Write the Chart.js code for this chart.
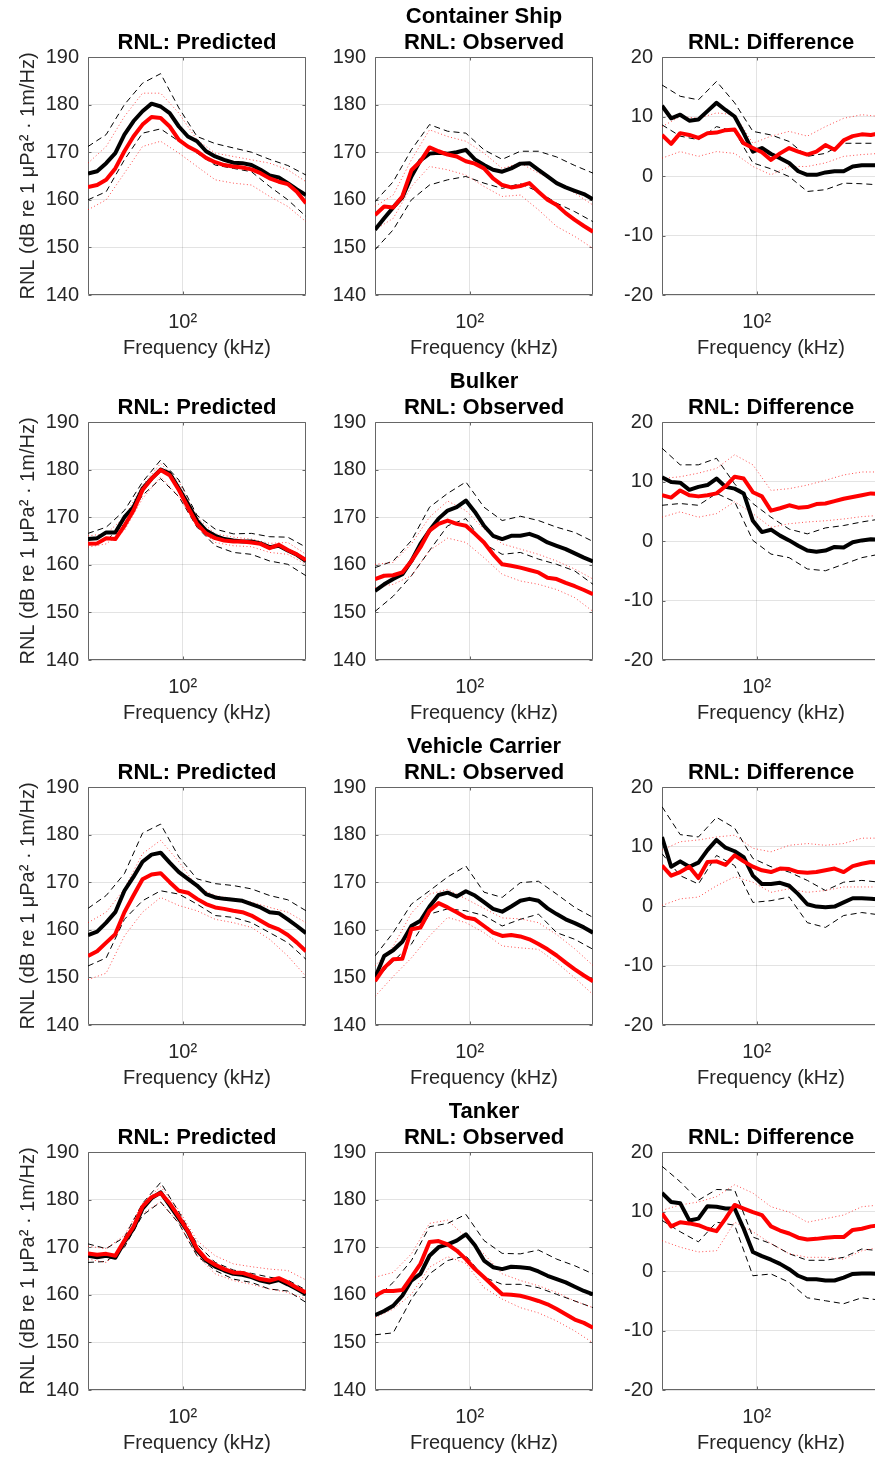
<!DOCTYPE html>
<html>
<head>
<meta charset="utf-8">
<title>RNL by ship type</title>
<script src="https://cdn.jsdelivr.net/npm/chart.js@4.4.1/dist/chart.umd.min.js"></script>
<style>
  html, body { margin: 0; padding: 0; background: #fff; overflow: hidden; }
  body { width: 875px; height: 1458px; position: relative; font-family: "Liberation Sans", Arial, Helvetica, sans-serif; }
  canvas { position: absolute; }
  .ttl { position: absolute; width: 300px; text-align: center; font-weight: bold; font-size: 22px; line-height: 24px; color: #000; white-space: nowrap; }
</style>
</head>
<body>
<script>
// frequency bands; the band limits use every other centre
const freq = [40, 43.7, 47.7, 52.1, 56.9, 62.1, 67.8, 74.0, 80.8, 88.2, 96.4, 105.2, 114.9,
              125.4, 137.0, 149.5, 163.3, 178.3, 194.6, 212.5, 232.1, 253.4, 276.7, 302.1, 330];
const freqBand = [40, 47.7, 56.9, 67.8, 80.8, 96.4, 114.9, 137.0, 163.3, 194.6, 232.1, 276.7, 330];

const shipNames = ['Container Ship', 'Bulker', 'Vehicle Carrier', 'Tanker'];
const panelTitles = ['RNL: Predicted', 'RNL: Observed', 'RNL: Difference'];
const rnlTicks = [140, 150, 160, 170, 180, 190];
const diffTicks = [-20, -10, 0, 10, 20];
const xTicks = [100];
const xTickLabels = ['10\u00b2'];

// --- Container Ship ---
const csPredBlack   = [165.5,166.0,167.7,169.8,173.7,176.5,178.6,180.2,179.6,178.2,175.4,173.3,172.3,170.2,169.1,168.4,167.8,167.7,167.3,166.3,165.1,164.7,163.5,162.2,161.0];
const csPredBlackHi = [171.2,173.7,180.0,184.5,186.5,179.3,173.3,171.8,170.9,170.0,168.5,167.2,165.2];
const csPredBlackLo = [160.0,161.7,168.4,174.0,174.9,172.3,169.8,167.3,166.6,165.9,162.8,160.0,156.5];
const csPredRed     = [162.7,163.1,164.2,166.6,170.2,173.3,175.8,177.4,177.2,175.4,172.6,171.2,170.2,168.8,167.9,167.3,167.0,166.8,166.4,165.6,164.5,163.8,163.3,161.7,159.3];
const csPredRedHi   = [167.7,171.2,177.5,182.4,182.4,178.2,172.6,169.8,169.1,168.4,167.7,166.3,163.8];
const csPredRedLo   = [157.9,160.0,165.6,171.2,172.3,169.8,167.0,164.2,163.5,163.1,160.7,158.6,155.4];

const csObsBlack    = [153.7,156.1,158.4,160.5,164.9,168.3,169.7,169.9,169.7,170.0,170.5,168.5,167.3,166.3,165.9,166.6,167.6,167.7,166.3,164.9,163.5,162.6,161.9,161.2,160.1];
const csObsBlackHi  = [159.6,163.8,170.5,175.8,174.4,174.0,170.5,168.5,170.2,170.2,169.0,167.2,165.6];
const csObsBlackLo  = [149.5,153.7,160.0,163.1,164.2,164.9,163.5,162.4,163.4,161.7,159.3,157.5,155.4];
const csObsRed      = [156.8,158.6,158.4,160.7,166.2,168.1,171.0,170.2,169.5,169.1,168.1,167.6,166.6,164.5,163.1,162.6,162.9,163.5,161.7,160.0,158.9,157.2,155.8,154.5,153.3];
const csObsRedHi    = [158.6,161.0,168.4,174.7,173.3,172.3,169.8,166.6,167.7,165.6,163.8,161.4,158.9];
const csObsRedLo    = [153.7,156.1,162.8,167.0,166.3,165.2,162.8,160.7,161.0,157.9,154.4,152.3,149.8];

const csDiffBlack   = [11.8,9.7,10.3,9.3,9.5,10.9,12.3,11.1,10.0,7.2,4.1,4.7,3.7,3.0,2.2,0.8,0.2,0.2,0.6,0.8,0.8,1.6,1.8,1.8,1.8];
const csDiffBlackHi = [15.3,13.4,12.8,15.9,12.3,7.5,6.9,5.8,3.3,3.8,5.5,5.5,5.5];
const csDiffBlackLo = [8.6,6.7,6.1,8.3,7.5,2.2,1.2,-0.1,-2.6,-2.3,-1.2,-1.3,-1.5];
const csDiffRed     = [6.9,5.4,7.2,6.9,6.4,7.2,7.3,7.7,7.8,5.5,4.7,4.0,2.7,3.8,4.7,4.1,3.6,4.1,5.2,4.4,6.0,6.7,7.0,6.9,7.2];
const csDiffRedHi   = [8.3,10.0,9.7,10.6,10.3,5.5,6.7,7.5,6.7,8.3,9.7,10.3,10.0];
const csDiffRedLo   = [3.0,4.1,3.3,4.1,3.8,1.6,0.2,1.6,1.6,2.2,3.3,3.6,3.8];

// --- Bulker ---
const bkPredBlack   = [165.4,165.6,166.8,166.8,170.0,172.1,176.0,178.1,180.0,179.2,176.0,172.8,169.3,167.2,166.1,165.4,165.1,164.9,164.9,164.5,163.7,164.0,163.0,162.1,160.8];
const bkPredBlackHi = [166.6,167.9,171.4,177.4,182.0,177.8,170.4,167.5,166.5,166.6,165.9,165.8,163.7];
const bkPredBlackLo = [164.4,165.1,168.6,174.6,178.1,174.3,167.9,164.0,162.6,162.2,160.8,160.1,157.7];
const bkPredRed     = [164.4,164.5,165.6,165.4,168.2,171.4,175.7,178.1,179.9,178.8,175.7,172.1,168.6,166.6,165.6,165.1,164.9,164.9,164.7,164.4,163.5,164.2,163.1,162.2,161.0];
const bkPredRedHi   = [166.1,166.5,170.0,176.7,181.3,177.4,170.0,166.5,165.8,165.4,164.5,164.7,162.2];
const bkPredRedLo   = [163.7,164.4,167.2,173.9,178.5,174.3,167.9,164.7,164.0,163.8,162.6,162.2,160.1];

const bkObsBlack    = [154.5,155.9,157.0,158.0,160.8,164.4,167.2,169.7,171.4,172.1,173.5,171.1,168.2,166.1,165.4,166.1,166.1,166.5,165.8,164.7,164.0,163.3,162.4,161.5,160.7];
const bkObsBlackHi  = [159.4,160.8,165.1,172.1,175.0,177.4,172.1,169.3,170.2,169.3,167.9,166.8,164.9];
const bkObsBlackLo  = [150.2,153.4,157.7,163.0,168.2,169.7,164.4,162.2,162.6,161.2,160.1,158.7,155.9];
const bkObsRed      = [157.0,157.7,157.8,158.4,160.8,163.7,167.2,168.6,169.3,168.6,168.2,166.5,164.7,162.2,160.1,159.8,159.4,158.9,158.4,157.3,157.0,156.2,155.5,154.7,153.8];
const bkObsRedHi    = [160.1,160.5,164.4,170.0,173.4,171.4,167.5,164.4,163.3,162.2,160.8,159.1,157.0];
const bkObsRedLo    = [155.2,155.9,157.7,163.0,165.6,164.7,161.5,158.0,156.6,155.9,154.8,153.1,150.2];

const bkDiffBlack   = [10.7,9.9,9.8,8.6,9.1,9.4,10.5,9.1,8.8,8.0,3.4,1.5,1.9,0.9,0.1,-0.8,-1.6,-1.8,-1.6,-1.0,-1.1,-0.2,0.1,0.3,0.2];
const bkDiffBlackHi = [15.6,12.8,12.8,13.9,9.6,6.3,4.0,2.0,1.2,2.2,2.6,3.2,3.7];
const bkDiffBlackLo = [6.0,6.3,6.0,8.0,6.6,0.1,-2.2,-2.8,-4.7,-5.0,-3.9,-2.8,-2.2];
const bkDiffRed     = [7.7,7.3,8.5,7.7,7.5,7.7,8.0,9.2,10.8,10.5,8.2,7.5,5.1,5.5,6.0,5.6,5.7,6.2,6.3,6.7,7.1,7.4,7.7,8.0,7.9];
const bkDiffRedHi   = [10.5,10.8,11.4,12.2,14.5,12.8,8.5,8.8,9.4,10.2,11.1,11.6,11.6];
const bkDiffRedLo   = [4.0,4.9,4.0,4.6,6.6,4.6,2.3,2.9,3.2,3.4,3.7,4.1,4.3];

// --- Vehicle Carrier ---
const vcPredBlack   = [158.9,159.6,161.5,163.7,168.2,171.1,174.3,175.8,176.2,174.1,172.1,170.7,169.3,167.5,166.8,166.5,166.3,166.1,165.4,164.7,163.7,163.5,162.2,160.8,159.3];
const vcPredBlackHi = [164.5,167.2,171.8,180.3,182.2,175.3,170.7,169.7,169.3,168.6,167.2,166.3,164.0];
const vcPredBlackLo = [152.4,154.1,162.2,166.1,168.2,167.5,165.4,163.0,162.6,161.5,159.4,157.3,153.8];
const vcPredRed     = [154.5,155.5,157.3,159.1,163.7,167.2,170.6,171.6,171.9,170.0,168.2,167.8,166.5,165.4,164.7,164.4,164.0,163.7,163.0,161.9,160.8,160.1,158.9,157.3,155.5];
const vcPredRedHi   = [161.5,163.7,168.6,176.0,178.8,174.3,169.0,167.2,166.5,165.8,164.7,163.7,161.5];
const vcPredRedLo   = [149.5,150.9,158.7,163.7,166.8,165.1,164.0,162.2,161.5,160.5,158.0,154.5,150.2];

const vcObsBlack    = [149.9,154.5,155.7,157.5,160.8,161.9,164.9,167.3,167.8,167.0,168.1,167.2,165.8,164.4,163.8,164.9,166.1,166.5,166.1,164.5,163.3,162.2,161.4,160.5,159.4];
const vcObsBlackHi  = [154.5,159.4,165.4,168.2,171.1,173.4,167.9,166.8,169.9,170.2,167.5,164.7,162.6];
const vcObsBlackLo  = [149.5,153.4,157.0,163.3,164.4,164.0,163.0,160.8,162.2,163.3,159.4,158.0,155.9];
const vcObsRed      = [149.2,152.0,153.8,153.9,160.1,160.5,164.0,165.6,164.7,163.7,162.6,162.2,160.8,159.4,158.7,158.9,158.6,158.0,157.0,155.9,154.6,153.1,151.7,150.4,149.2];
const vcObsRedHi    = [152.4,156.5,163.5,167.5,168.5,166.5,164.5,162.5,162.3,161.5,159.0,156.0,152.5];
const vcObsRedLo    = [146.0,150.2,154.1,158.7,162.6,161.5,159.4,156.6,156.2,155.9,153.1,149.9,146.4];

const vcDiffBlack   = [11.6,6.6,7.5,6.6,7.3,9.4,11.1,9.8,9.2,8.2,5.1,3.7,3.7,3.9,3.4,2.0,0.3,-0.1,-0.2,-0.1,0.6,1.3,1.3,1.2,1.1];
const vcDiffBlackHi = [16.7,12.0,11.6,14.9,13.1,8.0,6.6,5.7,4.3,2.6,4.0,4.3,4.0];
const vcDiffBlackLo = [8.8,5.1,3.7,8.5,6.8,0.6,0.9,1.5,-2.8,-3.6,-1.6,-1.1,-1.5];
const vcDiffRed     = [6.8,5.1,5.7,6.6,4.7,7.4,7.5,6.9,8.5,7.5,6.6,6.0,5.7,6.3,6.2,5.7,5.6,5.7,6.0,6.3,5.7,6.7,7.1,7.4,7.3];
const vcDiffRedHi   = [9.4,10.8,11.1,11.6,11.9,9.7,9.1,10.2,10.5,10.2,10.5,11.4,11.4];
const vcDiffRedLo   = [0.1,1.2,1.5,3.4,4.9,4.0,2.3,2.9,2.3,2.6,3.2,3.2,3.2];

// --- Tanker ---
const tkPredBlack   = [168.2,167.9,168.2,167.8,171.1,173.9,178.1,180.3,181.5,178.8,176.0,173.2,169.3,167.2,165.9,165.1,164.4,164.2,163.7,163.0,162.6,163.1,162.2,161.2,160.1];
const tkPredBlackHi = [170.7,169.7,172.1,179.2,183.6,177.4,170.7,166.8,165.2,164.5,163.7,163.1,161.0];
const tkPredBlackLo = [166.8,167.0,170.0,176.7,179.5,175.0,168.2,165.1,163.3,162.6,161.2,160.8,158.4];
const tkPredRed     = [168.7,168.4,168.6,168.2,171.4,174.3,178.5,180.5,181.4,179.2,176.4,173.4,169.7,167.5,166.3,165.4,164.7,164.6,164.0,163.3,163.0,163.5,162.6,161.5,160.5];
const tkPredRedHi   = [170.2,169.7,172.5,179.2,182.7,177.8,171.4,168.2,166.5,165.9,165.4,165.1,163.1];
const tkPredRedLo   = [167.5,166.8,170.0,177.1,179.5,175.0,168.2,164.4,163.0,162.2,161.2,160.5,159.1];

const tkObsBlack    = [155.7,156.6,157.7,159.8,163.0,164.4,168.2,170.0,170.6,171.4,172.7,170.4,167.2,165.8,165.4,165.9,165.8,165.6,164.9,164.0,163.3,162.6,161.7,160.8,160.1];
const tkObsBlackHi  = [159.1,162.6,167.2,174.3,175.0,176.9,171.4,168.7,168.6,169.4,167.5,166.1,164.4];
const tkObsBlackLo  = [151.6,152.0,159.1,164.4,167.2,168.2,163.7,162.2,162.2,161.5,160.1,158.7,157.3];
const tkObsRed      = [159.8,160.8,160.8,161.0,163.7,166.5,171.1,171.3,170.6,169.3,167.5,165.4,163.7,161.9,160.1,160.0,159.8,159.3,158.7,158.0,157.0,155.9,154.8,154.1,153.1];
const tkObsRedHi    = [163.7,164.7,168.6,175.0,175.7,172.1,168.6,164.4,163.0,161.9,160.5,158.7,157.3];
const tkObsRedLo    = [155.2,157.0,160.1,165.8,168.0,166.6,161.5,159.1,157.3,156.2,154.5,152.4,149.9];

const tkDiffBlack   = [13.1,11.6,11.4,8.5,8.8,10.9,10.8,10.5,10.5,7.1,3.2,2.5,1.9,1.2,0.3,-0.8,-1.4,-1.4,-1.6,-1.6,-1.1,-0.5,-0.4,-0.4,-0.5];
const tkDiffBlackHi = [17.6,15.0,11.9,13.7,13.6,5.7,4.6,2.9,1.8,1.8,2.3,3.7,3.4];
const tkDiffBlackLo = [8.5,6.6,4.9,8.2,7.7,-0.8,-0.5,-1.9,-4.5,-5.0,-5.5,-4.5,-4.9];
const tkDiffRed     = [9.7,7.5,8.2,8.0,7.7,7.1,6.7,8.8,11.1,10.5,9.9,9.4,7.5,6.8,6.3,5.6,5.3,5.4,5.6,5.7,5.7,6.9,7.1,7.5,7.7];
const tkDiffRedHi   = [10.2,11.1,11.6,12.5,14.5,13.1,10.8,9.9,8.2,8.8,9.4,10.8,11.1];
const tkDiffRedLo   = [5.1,4.0,3.2,3.4,8.2,6.6,4.6,2.9,2.3,2.3,2.0,3.4,4.0];

// rows = ships, columns = predicted / observed / difference
// each cell: [black, blackHi, blackLo, red, redHi, redLo]
const grid = [
  [[csPredBlack, csPredBlackHi, csPredBlackLo, csPredRed, csPredRedHi, csPredRedLo],
   [csObsBlack, csObsBlackHi, csObsBlackLo, csObsRed, csObsRedHi, csObsRedLo],
   [csDiffBlack, csDiffBlackHi, csDiffBlackLo, csDiffRed, csDiffRedHi, csDiffRedLo]],
  [[bkPredBlack, bkPredBlackHi, bkPredBlackLo, bkPredRed, bkPredRedHi, bkPredRedLo],
   [bkObsBlack, bkObsBlackHi, bkObsBlackLo, bkObsRed, bkObsRedHi, bkObsRedLo],
   [bkDiffBlack, bkDiffBlackHi, bkDiffBlackLo, bkDiffRed, bkDiffRedHi, bkDiffRedLo]],
  [[vcPredBlack, vcPredBlackHi, vcPredBlackLo, vcPredRed, vcPredRedHi, vcPredRedLo],
   [vcObsBlack, vcObsBlackHi, vcObsBlackLo, vcObsRed, vcObsRedHi, vcObsRedLo],
   [vcDiffBlack, vcDiffBlackHi, vcDiffBlackLo, vcDiffRed, vcDiffRedHi, vcDiffRedLo]],
  [[tkPredBlack, tkPredBlackHi, tkPredBlackLo, tkPredRed, tkPredRedHi, tkPredRedLo],
   [tkObsBlack, tkObsBlackHi, tkObsBlackLo, tkObsRed, tkObsRedHi, tkObsRedLo],
   [tkDiffBlack, tkDiffBlackHi, tkDiffBlackLo, tkDiffRed, tkDiffRedHi, tkDiffRedLo]]
];

// layout (px)
const COL_LEFT = [88, 375, 662];
const PLOT_W = 218, PLOT_H = 238;
const ROW_TOP = 57, ROW_STEP = 365;
const PAD_TOP = 24, PAD_RIGHT = 8, X_AXIS_H = 72;

const INK = '#262626';
const GRID = 'rgba(38,38,38,0.13)';
const AXIS = '#666';

Chart.defaults.font.family = '"Liberation Sans", Arial, Helvetica, sans-serif';
Chart.defaults.font.size = 20;
Chart.defaults.color = INK;

// box round the plot area plus inward tick marks on all four sides
const axesBox = {
  id: 'axesBox',
  beforeDatasetsDraw(chart) {
    const { ctx, chartArea: a, scales: { x, y } } = chart;
    const L = Math.round(a.left) + 0.5, R = Math.round(a.right) - 0.5;
    const T = Math.round(a.top) + 0.5, B = Math.round(a.bottom) - 0.5;
    ctx.save();
    ctx.strokeStyle = AXIS;
    ctx.lineWidth = 1;
    ctx.beginPath();
    ctx.rect(L, T, R - L, B - T);
    y.ticks.forEach(t => {
      const py = Math.round(y.getPixelForValue(t.value)) + 0.5;
      ctx.moveTo(L, py); ctx.lineTo(L + 3, py);
      ctx.moveTo(R, py); ctx.lineTo(R - 3, py);
    });
    x.ticks.forEach(t => {
      const px = Math.round(x.getPixelForValue(t.value)) + 0.5;
      ctx.moveTo(px, B); ctx.lineTo(px, B - 3);
      ctx.moveTo(px, T); ctx.lineTo(px, T + 3);
    });
    ctx.stroke();
    ctx.restore();
  }
};

function line(xs, ys, color, width, dash, order) {
  return {
    data: xs.map((x, i) => ({ x: x, y: ys[i] })),
    borderColor: color,
    borderWidth: width,
    borderDash: dash,
    borderJoinStyle: 'round',
    pointRadius: 0,
    tension: 0,
    fill: false,
    order: order
  };
}

function addTitle(text, cx, cy) {
  const d = document.createElement('div');
  d.className = 'ttl';
  d.textContent = text;
  d.style.left = (cx - 150) + 'px';
  d.style.top = (cy - 12) + 'px';
  document.body.appendChild(d);
}

function makePanel(row, col) {
  const yw = col === 0 ? 88 : 50;
  const plotTop = ROW_TOP + row * ROW_STEP;
  const cv = document.createElement('canvas');
  const w = yw + PLOT_W + PAD_RIGHT, h = PAD_TOP + PLOT_H + X_AXIS_H;
  cv.width = w; cv.height = h;
  cv.style.width = w + 'px'; cv.style.height = h + 'px';
  cv.style.left = (COL_LEFT[col] - yw) + 'px';
  cv.style.top = (plotTop - PAD_TOP) + 'px';
  document.body.appendChild(cv);

  const [black, blackHi, blackLo, red, redHi, redLo] = grid[row][col];
  const yTicks = col === 2 ? diffTicks : rnlTicks;

  new Chart(cv.getContext('2d'), {
    type: 'line',
    data: {
      datasets: [
        line(freq, red, '#ff0000', 4, [], 0),
        line(freq, black, '#000000', 4, [], 1),
        line(freqBand, redHi, 'rgba(255,0,0,0.7)', 1, [1, 2.5], 2),
        line(freqBand, redLo, 'rgba(255,0,0,0.7)', 1, [1, 2.5], 2),
        line(freqBand, blackHi, '#000000', 1, [6, 4], 3),
        line(freqBand, blackLo, '#000000', 1, [6, 4], 3)
      ]
    },
    options: {
      responsive: false,
      animation: false,
      devicePixelRatio: 1,
      layout: { padding: { top: PAD_TOP, right: PAD_RIGHT, bottom: 0, left: 0 } },
      plugins: { legend: { display: false }, tooltip: { enabled: false } },
      scales: {
        x: {
          type: 'logarithmic',
          min: freq[0],
          max: freq[freq.length - 1],
          afterBuildTicks: s => { s.ticks = xTicks.map(v => ({ value: v })); },
          afterFit: s => { s.height = X_AXIS_H; },
          ticks: {
            callback: (v, i) => xTickLabels[i],
            color: INK,
            padding: 15,
            maxRotation: 0,
            autoSkip: false
          },
          grid: { color: GRID, drawTicks: false },
          border: { display: false },
          title: {
            display: true,
            text: 'Frequency (kHz)',
            color: INK,
            padding: { top: 0, bottom: 7 }
          }
        },
        y: {
          min: yTicks[0],
          max: yTicks[yTicks.length - 1],
          afterBuildTicks: s => { s.ticks = yTicks.map(v => ({ value: v })); },
          afterFit: s => { s.width = yw; },
          ticks: { color: INK, padding: 9, callback: v => String(v) },
          grid: { color: GRID, drawTicks: false },
          border: { display: false },
          title: {
            display: col === 0,
            text: 'RNL (dB re 1 \u03bcPa\u00b2 \u00b7 1m/Hz)',
            color: INK,
            padding: { top: 16, bottom: 0 }
          }
        }
      }
    },
    plugins: [axesBox]
  });

  const cx = COL_LEFT[col] + PLOT_W / 2;
  addTitle(panelTitles[col], cx, plotTop - 15);
  if (col === 1) addTitle(shipNames[row], cx, plotTop - 41);
}

for (let r = 0; r < shipNames.length; r++) {
  for (let c = 0; c < panelTitles.length; c++) makePanel(r, c);
}
</script>
</body>
</html>
